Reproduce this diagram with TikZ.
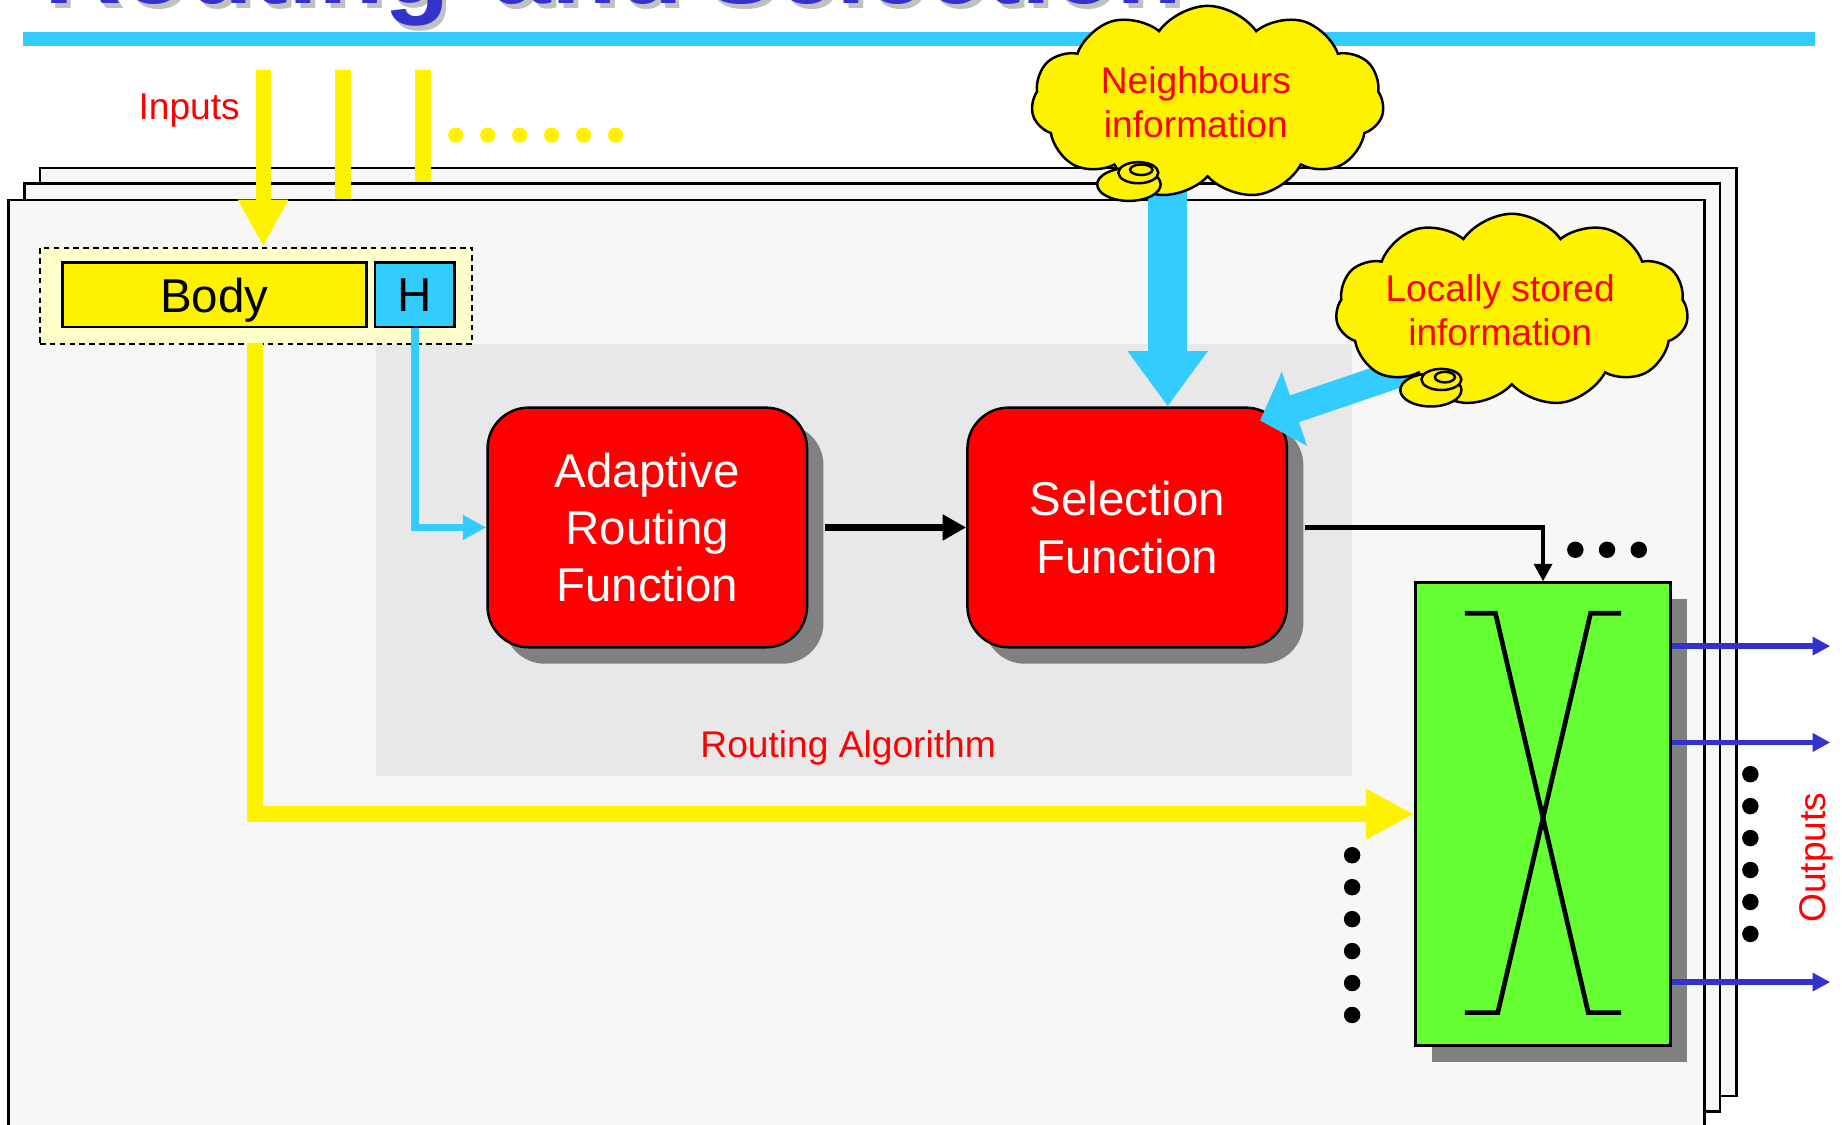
\documentclass[tikz,border=0pt]{standalone}
\usepackage{fontspec}
\setmainfont{Liberation Sans}
\usepackage{xcolor}
\usepackage{tikz}
\usetikzlibrary{shadows, shapes.symbols, positioning, calc, arrows.meta}

\begin{document}
\begin{tikzpicture}[x=0.1mm, y=-0.1mm,
  folha/.style={draw=black, line width=0.6pt, fill=papel, anchor=north west, inner sep=0pt},
  caixa/.style={draw=black, line width=0.6pt, inner sep=0pt, text depth=0pt, font=\fontsize{11.5}{13.9}\selectfont},
  funcao/.style={draw=black, line width=0.6pt, fill=red, rounded corners=3.5mm, text=white, align=center,
    font=\fontsize{11.5}{13.9}\selectfont, minimum width=27.2mm, minimum height=20.4mm,
    drop shadow={shadow xshift=1.4mm, shadow yshift=-1.4mm, fill=sombra, opacity=1}},
  nuvem/.style={cloud, cloud puffs=11, cloud puff arc=110, cloud ignores aspect, draw=black, line width=0.6pt,
    fill=yellow, minimum width=30mm, minimum height=16.4mm, inner sep=0pt},
  bolha/.style={draw=black, line width=0.6pt, fill=yellow},
  rotulo/.style={text=red, align=center, font=\fontsize{9}{10.5}\selectfont, inner sep=0pt},
  entrada/.style={draw=yellow, line width=1.3mm},
  grossa/.style={draw=ciano, line width=3.3mm, -{Triangle[length=4.7mm, width=6.5mm]}},
  saida/.style={draw=tinta, line width=0.45mm, -{Triangle[length=1.5mm, width=1.5mm]}},
  titulo/.style={anchor=base west, inner sep=0pt, font=\fontsize{26}{28}\selectfont\bfseries},
]
% --- ROTEAMENTO E SELECAO: FOLHAS EMPILHADAS, NUVENS E CROSSBAR ---
\definecolor{ciano}{HTML}{33CCFF}
\definecolor{tinta}{HTML}{3333CC}
\definecolor{papel}{HTML}{F7F7F7}
\definecolor{zona}{HTML}{E8E8E8}
\definecolor{verde}{HTML}{66FF33}
\definecolor{creme}{HTML}{FFFFCC}
\definecolor{sombra}{HTML}{808080}
\definecolor{cinza}{HTML}{C0C0C0}

\useasboundingbox (0,0) rectangle (1568,957);
\clip (0,0) rectangle (1568,957);
\fill[white] (0,0) rectangle (1568,957);

% LAYER 1: Titulo (cortado) e barra
\node[titulo, text=cinza] (titlesh) at (41,7) {Routing\hspace{3.6mm}and\hspace{1.9mm}Selection};
\node[titulo, text=tinta] (title) at (37,3) {Routing\hspace{3.6mm}and\hspace{1.9mm}Selection};
\fill[ciano] (20,27) rectangle (1545,39);

% LAYER 2: Folhas empilhadas
\node[folha, minimum width=144.4mm, minimum height=79mm] (pg1) at (33,142) {};
\node[folha, minimum width=144.3mm, minimum height=79mm] (pg2) at (20,155) {};
\node[folha, minimum width=144.4mm, minimum height=80mm] (pg3) at (6,169) {};

% LAYER 3: Zona do algoritmo
\node[fill=zona, anchor=north west, inner sep=0pt, minimum width=83.1mm, minimum height=36.8mm] (ralg) at (319,292) {};
\node[rotulo] (ralgtxt) at (722,637) {Routing Algorithm};

% LAYER 4: Pacote (corpo + cabecalho)
\node[fill=creme, draw=black, line width=0.5pt, dash pattern=on 1.4pt off 1pt, anchor=north west, inner sep=0pt, minimum width=36.8mm, minimum height=8.2mm] (pkt) at (33,210) {};
\node[caixa, fill=yellow, minimum width=25.9mm, minimum height=5.5mm] (body) at (182.5,251) {Body};
\node[caixa, fill=ciano, minimum width=6.8mm, minimum height=5.5mm] (hdr) at (353,251) {H};

% LAYER 5: Entradas
\coordinate (in1) at (224,60);
\coordinate (in2) at (292,60);
\coordinate (in3) at (360,60);
\draw[entrada, -{Triangle[length=4mm, width=4mm]}] (in1) -- (in1 |- pkt.north);
\draw[entrada] (in2) -- (in2 |- pg3.north);
\draw[entrada] (in3) -- (in3 |- pg2.north);
\foreach \i in {0,...,5} \fill[yellow] (388+27.2*\i,115) circle (0.65mm);
\node[rotulo] (inputs) at (161,94) {Inputs};

% LAYER 6: Funcoes de roteamento e selecao
\node[funcao] (arf) at (551,449) {Adaptive\\Routing\\Function};
\node[funcao] (sel) at (959.5,449) {Selection\\Function};

% LAYER 7: Crossbar
\node[draw=black, line width=0.6pt, fill=verde, inner sep=0pt, minimum width=21.7mm, minimum height=39.4mm,
  drop shadow={shadow xshift=1.4mm, shadow yshift=-1.4mm, fill=sombra, opacity=1}] (xbar) at (1313.5,693) {};
\draw[line width=0.4mm] (1247,522) -- (1273,522) -- (1352,862) -- (1380,862);
\draw[line width=0.4mm] (1380,522) -- (1354,522) -- (1275,862) -- (1247,862);

% LAYER 8: Ligacoes
\draw[draw=ciano, line width=0.65mm, -{Triangle[length=2mm, width=2mm]}] (hdr.south) |- (arf.west);
\draw[line width=0.6mm, -{Triangle[length=2mm, width=2.1mm]}] ([xshift=1.4mm]arf.east) -- (sel.west);
\draw[line width=0.4mm, -{Triangle[length=1.5mm, width=1.5mm]}] ([xshift=1.4mm]sel.east) -| (xbar.north);
\coordinate (yb) at (217,292);
\draw[draw=yellow, line width=1.4mm, -{Triangle[length=4.1mm, width=4mm]}] (yb) |- (xbar.west);

\foreach \i in {0,...,5} \fill (1151,728+27.2*\i) circle (0.7mm);
\foreach \i in {0,...,5} \fill (1490,659+27.2*\i) circle (0.7mm);
\foreach \i in {0,1,2} \fill (1341+27*\i,468) circle (0.7mm);

\foreach \y [count=\k] in {550,632,836} {
  \coordinate (o\k) at (1558,\y);
  \draw[saida] (xbar.east |- o\k) -- (o\k);
}
\node[rotulo, rotate=90] (outputs) at (1546,730) {Outputs};

% LAYER 9: Informacao externa (setas grossas e nuvens)
\coordinate (nbtip) at ([xshift=3.45mm]sel.north);
\draw[grossa] (nbtip |- 0,120) -- (nbtip);
\coordinate (lctip) at ([xshift=-2.4mm, yshift=-1.2mm]sel.north east);
\coordinate (lctail) at (1205,313);
\draw[draw=ciano, line width=2.4mm, -{Triangle[length=3.1mm, width=6.5mm]}] (lctail) -- (lctip);

\node[nuvem] (nbr) at (1028,87) {};
\node[rotulo] (nbrtxt) at (1018,87) {Neighbours\\information};
\draw[bolha] (961,157) ellipse [x radius=2.7mm, y radius=1.4mm];
\draw[bolha] (969,147) ellipse [x radius=1.7mm, y radius=0.9mm];
\draw[line width=0.6pt] (971.5,144.5) ellipse [x radius=0.95mm, y radius=0.45mm];

\node[nuvem] (loc) at (1287,264) {};
\node[rotulo] (loctxt) at (1277,264) {Locally stored\\information};
\draw[bolha] (1218,332) ellipse [x radius=2.6mm, y radius=1.4mm];
\draw[bolha] (1227,323) ellipse [x radius=1.7mm, y radius=0.9mm];
\draw[line width=0.6pt] (1230,321) ellipse [x radius=0.85mm, y radius=0.45mm];
\end{tikzpicture}
\end{document}
